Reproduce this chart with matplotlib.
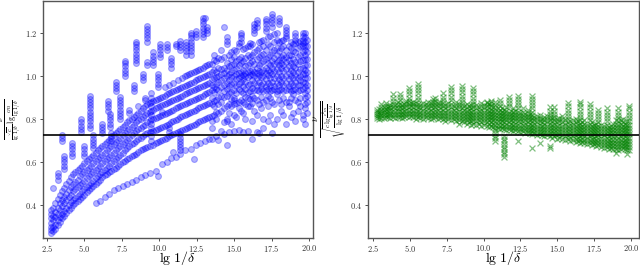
import numpy as np
import matplotlib
matplotlib.use("Agg")
import matplotlib.pyplot as plt

plt.rcParams['font.family'] = 'serif'
plt.rcParams['font.serif'] = ['cmr10']
plt.rcParams['mathtext.fontset'] = 'cm'
plt.rcParams['axes.formatter.use_mathtext'] = True

# reference level drawn in both panels
ref_level = 0.725

# left panel: x positions (lg 1/delta) and the stacked values at each one
blue_x = [2.75, 2.9, 3.05, 3.2, 3.35, 3.5, 3.65, 3.8, 3.95, 4.1, 4.2, 4.25, 4.4, 4.55, 4.7, 4.75,
          4.85, 4.95, 5.0, 5.15, 5.3, 5.4, 5.45, 5.6, 5.75, 5.9, 6.05, 6.15, 6.2, 6.35, 6.5, 6.6,
          6.65, 6.7, 6.8, 6.95, 7.1, 7.25, 7.4, 7.55, 7.7, 7.85, 8.0, 8.15, 8.3, 8.45, 8.6, 8.75,
          8.9, 9.05, 9.15, 9.2, 9.35, 9.45, 9.6, 9.75, 9.9, 10.05, 10.2, 10.35, 10.5, 10.65, 10.8,
          10.95, 11.1, 11.25, 11.4, 11.55, 11.7, 11.8, 11.85, 12.0, 12.15, 12.3, 12.45, 12.6, 12.75,
          12.9, 13.05, 13.2, 13.35, 13.5, 13.65, 13.8, 13.95, 14.1, 14.3, 14.5, 14.65, 14.8, 15.0,
          15.15, 15.3, 15.45, 15.6, 15.75, 15.9, 16.05, 16.2, 16.35, 16.5, 16.65, 16.8, 16.95, 17.1,
          17.25, 17.4, 17.55, 17.7, 17.85, 18.0, 18.15, 18.3, 18.5, 18.65, 18.8, 18.95, 19.1, 19.25,
          19.4, 19.6, 19.75, 19.9]
blue_y = [
    [0.27, 0.285, 0.30, 0.32, 0.34, 0.36, 0.38],
    [0.28, 0.30, 0.33, 0.35, 0.39, 0.48],
    [0.29, 0.31, 0.345, 0.37, 0.41],
    [0.31, 0.33, 0.36, 0.39, 0.43, 0.52, 0.535, 0.55],
    [0.325, 0.345, 0.38, 0.41, 0.45],
    [0.34, 0.36, 0.395, 0.425, 0.465, 0.70, 0.715, 0.725],
    [0.35, 0.375, 0.41, 0.44, 0.48, 0.57, 0.585, 0.60, 0.615, 0.63],
    [0.365, 0.39, 0.425, 0.455, 0.50],
    [0.38, 0.40, 0.44, 0.47, 0.515],
    [0.39, 0.415, 0.45, 0.485, 0.53],
    [0.63, 0.645, 0.66, 0.675, 0.69],
    [0.40, 0.425, 0.465, 0.50, 0.545],
    [0.41, 0.435, 0.475, 0.51, 0.555],
    [0.42, 0.445, 0.485, 0.52, 0.565],
    [0.43, 0.455, 0.495, 0.535, 0.575],
    [0.74, 0.755, 0.77, 0.785, 0.80],
    [0.44, 0.465, 0.505, 0.545, 0.585],
    [0.63, 0.645, 0.66, 0.675],
    [0.45, 0.475, 0.515, 0.555, 0.595],
    [0.46, 0.485, 0.525, 0.565, 0.605],
    [0.47, 0.495, 0.535, 0.575, 0.615],
    [0.76, 0.775, 0.79, 0.805, 0.82, 0.835, 0.85, 0.865, 0.88, 0.895, 0.91],
    [0.48, 0.505, 0.545, 0.585, 0.625],
    [0.49, 0.515, 0.555, 0.595, 0.635, 0.665, 0.68, 0.695, 0.71, 0.725],
    [0.41, 0.50, 0.525, 0.565, 0.605, 0.645],
    [0.51, 0.535, 0.575, 0.615, 0.655],
    [0.42, 0.52, 0.545, 0.585, 0.625, 0.665],
    [0.735, 0.75, 0.765, 0.78],
    [0.53, 0.555, 0.595, 0.635, 0.675],
    [0.44, 0.54, 0.565, 0.605, 0.645, 0.685],
    [0.545, 0.575, 0.615, 0.655, 0.695],
    [0.84, 0.855, 0.87, 0.885],
    [0.455, 0.555, 0.585, 0.625, 0.665, 0.705],
    [0.765, 0.78, 0.795, 0.81, 0.825],
    [0.56, 0.595, 0.635, 0.675, 0.715, 0.70, 0.72, 0.735],
    [0.47, 0.57, 0.605, 0.645, 0.685, 0.725],
    [0.575, 0.615, 0.655, 0.695, 0.735, 0.93, 0.945, 0.96, 0.975],
    [0.48, 0.585, 0.625, 0.665, 0.705, 0.745],
    [0.59, 0.635, 0.675, 0.715, 0.755, 0.80, 0.815, 0.83, 0.845, 0.86, 0.875, 0.89, 0.905],
    [0.49, 0.60, 0.645, 0.685, 0.725, 0.765],
    [0.605, 0.655, 0.695, 0.735, 0.775, 1.0, 1.015, 1.03, 1.045, 1.06, 1.07],
    [0.50, 0.615, 0.665, 0.705, 0.745, 0.785],
    [0.62, 0.675, 0.715, 0.755, 0.795, 0.83, 0.845],
    [0.51, 0.63, 0.685, 0.725, 0.765, 0.80],
    [0.635, 0.69, 0.735, 0.775, 0.81, 0.93, 0.945, 0.96],
    [0.52, 0.64, 0.70, 0.745, 0.785, 0.82, 1.06, 1.075, 1.09, 1.105, 1.12, 1.135, 1.15, 1.16],
    [0.65, 0.71, 0.755, 0.795, 0.83, 0.86],
    [0.53, 0.655, 0.715, 0.76, 0.80, 0.84],
    [0.66, 0.72, 0.77, 0.81, 0.85, 0.98, 0.995, 1.01],
    [0.54, 0.665, 0.73, 0.775, 0.82, 0.86, 0.89, 0.90],
    [1.05, 1.065, 1.16, 1.175, 1.19, 1.205, 1.22, 1.235],
    [0.67, 0.735, 0.785, 0.83, 0.87],
    [0.55, 0.675, 0.74, 0.79, 0.835, 0.875],
    [0.70, 0.72, 0.74, 0.76, 0.78, 0.80, 0.82, 0.84, 0.86, 0.88, 0.90, 0.92],
    [0.68, 0.745, 0.80, 0.845, 0.885, 1.05, 1.065, 1.08, 1.095, 1.11],
    [0.56, 0.69, 0.75, 0.805, 0.85, 0.89],
    [0.535, 0.695, 0.755, 0.81, 0.855, 0.895, 0.95, 0.965, 0.98, 0.995, 1.01],
    [0.70, 0.76, 0.815, 0.86, 0.90, 1.09, 1.105, 1.12, 1.135, 1.15],
    [0.59, 0.705, 0.765, 0.82, 0.865, 0.905, 0.835],
    [0.71, 0.77, 0.825, 0.87, 0.91, 0.95],
    [0.60, 0.715, 0.775, 0.83, 0.875, 0.915, 1.12, 1.135, 1.15],
    [0.72, 0.78, 0.835, 0.88, 0.92, 0.96, 0.74, 0.76],
    [0.62, 0.725, 0.785, 0.84, 0.885, 0.925, 1.04, 1.055, 1.07, 1.085],
    [0.65, 0.73, 0.79, 0.845, 0.89, 0.93, 0.97],
    [0.625, 0.735, 0.795, 0.85, 0.895, 0.935, 1.14, 1.15],
    [0.74, 0.80, 0.855, 0.90, 0.94, 0.98],
    [0.64, 0.655, 0.67, 0.685, 0.70, 0.715, 0.73, 0.745, 0.81, 0.86, 0.905, 0.945, 1.12, 1.135, 1.15, 1.165],
    [0.75, 0.815, 0.865, 0.91, 0.95, 0.99],
    [0.655, 0.755, 0.82, 0.87, 0.915, 0.955, 1.0],
    [1.10, 1.115, 1.13, 1.145, 1.16],
    [0.76, 0.825, 0.875, 0.92, 0.96, 1.005],
    [0.765, 0.83, 0.88, 0.925, 0.965, 1.01],
    [0.66, 0.77, 0.835, 0.885, 0.93, 0.97, 1.015, 1.10, 1.115, 1.13, 1.145, 1.16, 1.175, 1.19, 1.20],
    [0.615, 0.775, 0.84, 0.89, 0.935, 0.975, 1.02],
    [0.68, 0.78, 0.845, 0.895, 0.94, 0.98, 1.025, 1.18, 1.195, 1.21],
    [0.785, 0.85, 0.90, 0.945, 0.985, 1.03],
    [0.69, 0.79, 0.855, 0.905, 0.95, 0.99, 1.035],
    [0.795, 0.86, 0.91, 0.955, 0.995, 1.04, 1.18, 1.195, 1.21, 1.225, 1.24, 1.255, 1.27],
    [0.70, 0.80, 0.865, 0.915, 0.96, 1.0, 1.045, 1.27],
    [0.805, 0.87, 0.92, 0.965, 1.005, 1.05, 1.20, 1.215, 1.23],
    [0.71, 0.81, 0.875, 0.925, 0.97, 1.01, 1.055],
    [0.71, 0.76, 0.79, 0.815, 0.87, 0.90, 0.935, 0.96, 0.985, 1.02, 1.055],
    [0.82, 0.86, 0.885, 0.925, 0.95, 0.99, 1.03, 1.075, 1.10],
    [0.72, 0.80, 0.835, 0.89, 0.94, 0.965, 0.995, 1.02, 1.07],
    [0.705, 0.83, 0.87, 0.905, 0.935, 0.975, 1.0, 1.04, 1.085],
    [0.745, 0.84, 0.88, 0.91, 0.95, 0.98, 1.01, 1.035, 1.08, 1.12],
    [0.73, 0.785, 0.85, 0.905, 0.93, 0.96, 0.99, 1.015, 1.04, 1.09, 1.23],
    [0.68, 0.79, 0.80, 0.86, 0.91, 0.94, 0.97, 1.0, 1.03, 1.06, 1.15, 1.165, 1.18],
    [0.74, 0.83, 0.87, 0.92, 0.955, 0.98, 1.01, 1.045, 1.10],
    [0.78, 0.86, 0.895, 0.925, 0.965, 0.995, 1.02, 1.05, 1.08, 1.11],
    [0.745, 0.82, 0.87, 0.89, 0.90, 0.935, 0.97, 1.0, 1.03, 1.055, 1.09, 1.12],
    [0.81, 0.875, 0.92, 0.955, 0.985, 1.01, 1.04, 1.07, 1.115],
    [0.75, 0.85, 0.88, 0.94, 0.965, 0.99, 1.015, 1.05, 1.08, 1.14, 1.155],
    [0.84, 0.89, 0.93, 0.975, 1.0, 1.02, 1.06, 1.09, 1.16, 1.175, 1.19, 1.20],
    [0.74, 0.83, 0.88, 0.92, 0.955, 0.985, 1.005, 1.03, 1.07, 1.125],
    [0.80, 0.87, 0.905, 0.94, 0.975, 1.0, 1.015, 1.045, 1.085, 1.13],
    [0.745, 0.86, 0.90, 0.925, 0.96, 0.995, 1.02, 1.05, 1.10, 1.14],
    [0.86, 0.895, 0.93, 0.965, 1.005, 1.025, 1.06, 1.09, 1.14, 1.155],
    [0.706, 0.79, 0.875, 0.91, 0.945, 0.98, 1.01, 1.03, 1.07, 1.10, 1.15],
    [0.84, 0.90, 0.935, 0.97, 1.0, 1.02, 1.055, 1.11, 1.20, 1.215, 1.23, 1.24],
    [0.74, 0.82, 0.89, 0.935, 0.96, 0.99, 1.015, 1.04, 1.08, 1.12, 1.23, 1.245, 1.26],
    [0.734, 0.87, 0.93, 0.975, 1.005, 1.025, 1.05, 1.09, 1.13, 1.16],
    [0.85, 0.905, 0.94, 0.96, 0.995, 1.02, 1.06, 1.10, 1.165],
    [0.76, 0.80, 0.88, 0.93, 0.97, 1.0, 1.03, 1.07, 1.105, 1.14, 1.17],
    [0.89, 0.935, 0.955, 0.985, 1.015, 1.04, 1.08, 1.12, 1.21, 1.225, 1.24, 1.255, 1.265],
    [0.79, 0.86, 0.91, 0.94, 0.97, 1.005, 1.03, 1.06, 1.09, 1.15, 1.18],
    [0.82, 0.90, 0.93, 0.96, 0.99, 1.02, 1.05, 1.10, 1.14, 1.185],
    [0.734, 0.88, 0.935, 0.975, 1.01, 1.04, 1.07, 1.11, 1.23, 1.245, 1.26, 1.275, 1.29],
    [0.78, 0.87, 0.94, 0.955, 0.99, 1.025, 1.055, 1.085, 1.12, 1.16, 1.195],
    [0.80, 0.915, 0.93, 0.97, 1.0, 1.035, 1.065, 1.10, 1.13, 1.17, 1.20],
    [0.89, 0.935, 0.96, 0.985, 1.02, 1.05, 1.075, 1.115, 1.16, 1.24, 1.255, 1.27],
    [0.84, 0.87, 0.94, 0.975, 1.0, 1.04, 1.06, 1.09, 1.13, 1.165],
    [0.82, 0.90, 0.93, 0.96, 0.99, 1.025, 1.05, 1.08, 1.10, 1.14, 1.17],
    [0.78, 0.88, 0.935, 0.97, 1.0, 1.035, 1.065, 1.09, 1.12, 1.175, 1.185, 1.20, 1.215, 1.23],
    [0.86, 0.88, 0.94, 0.955, 0.985, 1.015, 1.045, 1.075, 1.10, 1.14],
    [0.81, 0.90, 0.93, 0.97, 1.0, 1.03, 1.06, 1.10, 1.13, 1.16],
    [0.83, 0.915, 0.935, 0.96, 0.99, 1.02, 1.045, 1.08, 1.115, 1.15],
    [0.79, 0.89, 0.94, 0.975, 1.005, 1.04, 1.065, 1.11, 1.155, 1.17, 1.185, 1.20],
    [0.84, 0.88, 0.93, 0.96, 0.99, 1.02, 1.055, 1.09, 1.13, 1.16],
    [0.86, 0.90, 0.935, 0.96, 0.98, 1.0, 1.035, 1.07, 1.10, 1.14, 1.165],
    [0.80, 0.82, 0.94, 0.975, 1.01, 1.04, 1.075, 1.11, 1.14, 1.155, 1.17, 1.185, 1.20],
    [0.78, 0.85, 0.87, 0.90, 0.92, 0.95, 0.97, 0.99, 1.01, 1.03, 1.05, 1.08, 1.10, 1.12, 1.14, 1.16, 1.18, 1.20],
    [0.83, 0.88, 0.91, 0.935, 0.96, 0.99, 1.02, 1.05, 1.08, 1.11, 1.14, 1.17],
]

# right panel: x positions and the stacked values at each one
green_x = [2.75, 2.9, 3.05, 3.2, 3.35, 3.5, 3.65, 3.85, 4.0, 4.15, 4.3, 4.45, 4.6, 4.75, 4.9, 5.05,
           5.2, 5.4, 5.55, 5.7, 5.9, 6.05, 6.2, 6.4, 6.55, 6.7, 6.9, 7.05, 7.25, 7.4, 7.6, 7.8, 7.95,
           8.15, 8.3, 8.5, 8.65, 8.85, 9.0, 9.15, 9.3, 9.5, 9.65, 9.85, 10.0, 10.2, 10.35, 10.5,
           10.65, 10.8, 10.95, 11.1, 11.25, 11.4, 11.55, 11.7, 11.85, 12.0, 12.15, 12.35, 12.5,
           12.65, 12.8, 13.0, 13.15, 13.3, 13.45, 13.6, 13.8, 13.95, 14.1, 14.3, 14.5, 14.65, 14.8,
           15.0, 15.15, 15.3, 15.5, 15.75, 15.9, 16.05, 16.25, 16.4, 16.55, 16.7, 16.85, 17.0, 17.2,
           17.35, 17.5, 17.65, 17.8, 18.0, 18.15, 18.35, 18.5, 18.65, 18.8, 19.0, 19.15, 19.3,
           19.45, 19.6, 19.75, 19.9]
green_y = [
    [0.805, 0.815, 0.825, 0.835, 0.845],
    [0.80, 0.812, 0.824, 0.836, 0.848],
    [0.805, 0.818, 0.83, 0.842, 0.855, 0.87],
    [0.808, 0.82, 0.832, 0.845, 0.858],
    [0.81, 0.822, 0.835, 0.848, 0.86, 0.875],
    [0.812, 0.825, 0.838, 0.85, 0.862],
    [0.805, 0.818, 0.83, 0.843, 0.856, 0.868],
    [0.81, 0.825, 0.84, 0.855, 0.87, 0.885, 0.90, 0.915],
    [0.808, 0.822, 0.836, 0.85, 0.864],
    [0.812, 0.826, 0.84, 0.854, 0.868, 0.88],
    [0.81, 0.825, 0.84, 0.855, 0.87, 0.89, 0.905, 0.915],
    [0.805, 0.82, 0.835, 0.85, 0.865],
    [0.81, 0.825, 0.84, 0.855, 0.87],
    [0.815, 0.83, 0.845, 0.86, 0.875, 0.885],
    [0.81, 0.825, 0.84, 0.855, 0.87, 0.885, 0.90, 0.915, 0.93, 0.945],
    [0.815, 0.83, 0.845, 0.86, 0.875],
    [0.81, 0.825, 0.84, 0.855, 0.87, 0.88],
    [0.80, 0.815, 0.83, 0.845, 0.86, 0.875],
    [0.81, 0.825, 0.84, 0.855, 0.87, 0.89, 0.905, 0.92, 0.935, 0.95, 0.965],
    [0.805, 0.82, 0.835, 0.85, 0.865],
    [0.80, 0.815, 0.83, 0.845, 0.86, 0.875],
    [0.81, 0.825, 0.84, 0.855, 0.87],
    [0.805, 0.82, 0.835, 0.85, 0.865, 0.88],
    [0.80, 0.815, 0.83, 0.845, 0.86, 0.875],
    [0.805, 0.82, 0.835, 0.85, 0.865, 0.88, 0.895],
    [0.81, 0.825, 0.84, 0.855, 0.87, 0.885, 0.90],
    [0.80, 0.815, 0.83, 0.845, 0.86, 0.875],
    [0.805, 0.82, 0.835, 0.85, 0.865, 0.88],
    [0.80, 0.815, 0.83, 0.845, 0.86, 0.875, 0.89, 0.905, 0.92],
    [0.79, 0.805, 0.82, 0.835, 0.85, 0.865],
    [0.80, 0.815, 0.83, 0.845, 0.86, 0.875],
    [0.795, 0.81, 0.825, 0.84, 0.855, 0.87, 0.89, 0.905, 0.92, 0.935, 0.95],
    [0.80, 0.815, 0.83, 0.845, 0.86],
    [0.79, 0.805, 0.82, 0.835, 0.85, 0.865, 0.88],
    [0.78, 0.795, 0.81, 0.825, 0.84, 0.855, 0.87],
    [0.79, 0.805, 0.82, 0.835, 0.85, 0.865, 0.88, 0.895, 0.91, 0.925, 0.94, 0.955],
    [0.785, 0.80, 0.815, 0.83, 0.845, 0.86],
    [0.78, 0.795, 0.81, 0.825, 0.84, 0.855, 0.87],
    [0.785, 0.80, 0.815, 0.83, 0.845, 0.86],
    [0.775, 0.79, 0.805, 0.82, 0.835, 0.85, 0.865],
    [0.78, 0.795, 0.81, 0.825, 0.84, 0.855, 0.87, 0.885, 0.90, 0.915, 0.93, 0.945],
    [0.775, 0.79, 0.805, 0.82, 0.835, 0.85, 0.865],
    [0.78, 0.795, 0.81, 0.825, 0.84, 0.855],
    [0.77, 0.785, 0.80, 0.815, 0.83, 0.845, 0.86, 0.875],
    [0.775, 0.79, 0.805, 0.82, 0.835, 0.85, 0.865],
    [0.77, 0.785, 0.80, 0.815, 0.83, 0.845, 0.86, 0.875, 0.88],
    [0.765, 0.78, 0.795, 0.81, 0.825, 0.84, 0.855, 0.87],
    [0.77, 0.785, 0.80, 0.815, 0.83, 0.845, 0.86, 0.875, 0.885],
    [0.765, 0.78, 0.795, 0.81, 0.825, 0.84, 0.855],
    [0.70, 0.712, 0.724, 0.736, 0.748, 0.76, 0.775, 0.79, 0.805, 0.82, 0.835, 0.85, 0.865, 0.88],
    [0.76, 0.775, 0.79, 0.805, 0.82, 0.835, 0.85],
    [0.755, 0.77, 0.785, 0.80, 0.815, 0.83, 0.845, 0.86, 0.875, 0.89],
    [0.76, 0.775, 0.79, 0.805, 0.82, 0.835, 0.85],
    [0.625, 0.637, 0.649, 0.661, 0.673, 0.685, 0.697, 0.709, 0.721, 0.755, 0.77, 0.785, 0.80, 0.815, 0.83, 0.845],
    [0.75, 0.765, 0.78, 0.795, 0.81, 0.825, 0.84, 0.855],
    [0.755, 0.77, 0.785, 0.80, 0.815, 0.83, 0.86, 0.875, 0.89, 0.905],
    [0.75, 0.765, 0.78, 0.795, 0.81, 0.825, 0.84],
    [0.745, 0.76, 0.775, 0.79, 0.805, 0.82, 0.835, 0.85],
    [0.75, 0.765, 0.78, 0.795, 0.81, 0.825, 0.84],
    [0.70, 0.745, 0.76, 0.775, 0.79, 0.805, 0.82, 0.835, 0.85, 0.865, 0.88, 0.895, 0.91],
    [0.74, 0.755, 0.77, 0.785, 0.80, 0.815, 0.83],
    [0.745, 0.76, 0.775, 0.79, 0.805, 0.82, 0.835, 0.85],
    [0.735, 0.75, 0.765, 0.78, 0.795, 0.81, 0.825],
    [0.74, 0.755, 0.77, 0.785, 0.80, 0.815, 0.83, 0.845],
    [0.735, 0.75, 0.765, 0.78, 0.795, 0.81, 0.825],
    [0.665, 0.73, 0.745, 0.76, 0.775, 0.79, 0.805, 0.82, 0.835, 0.85, 0.865, 0.88, 0.895, 0.91],
    [0.735, 0.75, 0.765, 0.78, 0.795, 0.81],
    [0.725, 0.74, 0.755, 0.77, 0.785, 0.80, 0.815],
    [0.69, 0.73, 0.745, 0.76, 0.775, 0.79, 0.805, 0.82],
    [0.725, 0.74, 0.755, 0.77, 0.785, 0.80],
    [0.72, 0.735, 0.75, 0.765, 0.78, 0.795, 0.81],
    [0.725, 0.74, 0.755, 0.77, 0.785, 0.80, 0.815],
    [0.665, 0.675, 0.72, 0.735, 0.75, 0.765, 0.78, 0.795, 0.81, 0.825, 0.84, 0.855],
    [0.715, 0.73, 0.745, 0.76, 0.775, 0.79, 0.805],
    [0.72, 0.735, 0.75, 0.765, 0.78, 0.795, 0.81, 0.825, 0.84, 0.855],
    [0.71, 0.725, 0.74, 0.755, 0.77, 0.785, 0.80],
    [0.715, 0.73, 0.745, 0.76, 0.775, 0.79, 0.805],
    [0.71, 0.725, 0.74, 0.755, 0.77, 0.785, 0.80, 0.815],
    [0.705, 0.72, 0.735, 0.75, 0.765, 0.78, 0.795],
    [0.71, 0.725, 0.74, 0.755, 0.77, 0.785, 0.80, 0.815, 0.83, 0.845, 0.86, 0.875],
    [0.70, 0.715, 0.73, 0.745, 0.76, 0.775, 0.79],
    [0.705, 0.72, 0.735, 0.75, 0.765, 0.78, 0.795],
    [0.695, 0.71, 0.725, 0.74, 0.755, 0.77, 0.785, 0.80],
    [0.70, 0.715, 0.73, 0.745, 0.76, 0.775, 0.79],
    [0.69, 0.705, 0.72, 0.735, 0.75, 0.765, 0.78, 0.795, 0.81, 0.825, 0.84, 0.855, 0.87, 0.88],
    [0.695, 0.71, 0.725, 0.74, 0.755, 0.77, 0.785],
    [0.69, 0.705, 0.72, 0.735, 0.75, 0.765, 0.78, 0.795],
    [0.685, 0.70, 0.715, 0.73, 0.745, 0.76, 0.775],
    [0.69, 0.705, 0.72, 0.735, 0.75, 0.765, 0.78, 0.795, 0.81, 0.825, 0.84, 0.855, 0.87],
    [0.68, 0.695, 0.71, 0.725, 0.74, 0.755, 0.77, 0.785],
    [0.685, 0.70, 0.715, 0.73, 0.745, 0.76, 0.775],
    [0.675, 0.69, 0.705, 0.72, 0.735, 0.75, 0.765, 0.78],
    [0.68, 0.695, 0.71, 0.725, 0.74, 0.755, 0.77, 0.785, 0.80, 0.815, 0.83, 0.845],
    [0.67, 0.685, 0.70, 0.715, 0.73, 0.745, 0.76, 0.775],
    [0.665, 0.68, 0.695, 0.71, 0.725, 0.74, 0.755, 0.77],
    [0.67, 0.685, 0.70, 0.715, 0.73, 0.745, 0.76, 0.775, 0.79, 0.805, 0.82, 0.835, 0.85],
    [0.66, 0.675, 0.69, 0.705, 0.72, 0.735, 0.75, 0.765],
    [0.665, 0.68, 0.695, 0.71, 0.725, 0.74, 0.755, 0.77],
    [0.66, 0.675, 0.69, 0.705, 0.72, 0.735, 0.75, 0.765, 0.78],
    [0.645, 0.66, 0.675, 0.69, 0.705, 0.72, 0.735, 0.75, 0.765, 0.78, 0.795],
    [0.655, 0.67, 0.685, 0.70, 0.715, 0.73, 0.745, 0.76, 0.775, 0.79, 0.805, 0.82, 0.835, 0.85],
    [0.66, 0.675, 0.69, 0.705, 0.72, 0.735, 0.75, 0.765, 0.78, 0.795],
    [0.665, 0.68, 0.695, 0.71, 0.725, 0.74, 0.755, 0.77, 0.785, 0.80],
    [0.66, 0.675, 0.69, 0.705, 0.72, 0.735, 0.75, 0.765, 0.78],
    [0.64, 0.655, 0.67, 0.685, 0.70, 0.715, 0.73, 0.745, 0.76, 0.775, 0.79],
    [0.655, 0.67, 0.685, 0.70, 0.715, 0.73, 0.745, 0.76, 0.775, 0.79, 0.805, 0.82, 0.835, 0.85, 0.86],
]

x_ticks = [2.5, 5.0, 7.5, 10.0, 12.5, 15.0, 17.5, 20.0]
y_ticks = [0.4, 0.6, 0.8, 1.0, 1.2]

left_label = r'$\frac{\nu}{\frac{\sqrt{c}}{\lg\,1/\delta}\,\lg\frac{cm}{\lg\,1/\delta}}$'
right_label = r'$\frac{\nu}{\sqrt{\frac{c\,\lg\frac{c^2 m}{\lg\,1/\delta}}{\lg\,1/\delta}}}$'
x_label = r'$\lg\,1/\delta$'


def flatten(xs, ys):
    px, py = [], []
    for x, col in zip(xs, ys):
        px.extend([x] * len(col))
        py.extend(col)
    return np.array(px), np.array(py)


fig = plt.figure(figsize=(6.4, 2.67), dpi=100)
ax1 = fig.add_axes([0.0667, 0.1097, 0.4223, 0.8865])
ax2 = fig.add_axes([0.5755, 0.1097, 0.4230, 0.8865])

bx, by = flatten(blue_x, blue_y)
ax1.scatter(bx, by, s=18, c='blue', alpha=0.3, linewidths=0.8, zorder=2)
gx, gy = flatten(green_x, green_y)
ax2.scatter(gx, gy, s=18, c='green', marker='x', alpha=0.5, linewidths=0.9, zorder=2)

panels = [(ax1, left_label, (2.21, 20.27), 8.5, -0.068),
          (ax2, right_label, (2.16, 20.56), 10, -0.066)]
for ax, lab, xl, fs, lx in panels:
    ax.axhline(ref_level, color='black', lw=1.2, zorder=3)
    ax.set_xlim(*xl)
    ax.set_ylim(0.25, 1.349)
    ax.set_xticks(x_ticks)
    ax.set_yticks(y_ticks)
    ax.tick_params(labelsize=6, length=2.5, width=0.6, colors='#333333', pad=1.5)
    for sp in ax.spines.values():
        sp.set_color('#555555')
        sp.set_linewidth(1.0)
    ax.set_xlabel(x_label, fontsize=10, labelpad=-3.5)
    ax.set_ylabel(lab, fontsize=fs)
    ax.yaxis.set_label_coords(lx, 0.5)

fig.savefig('out.png', dpi=100)
